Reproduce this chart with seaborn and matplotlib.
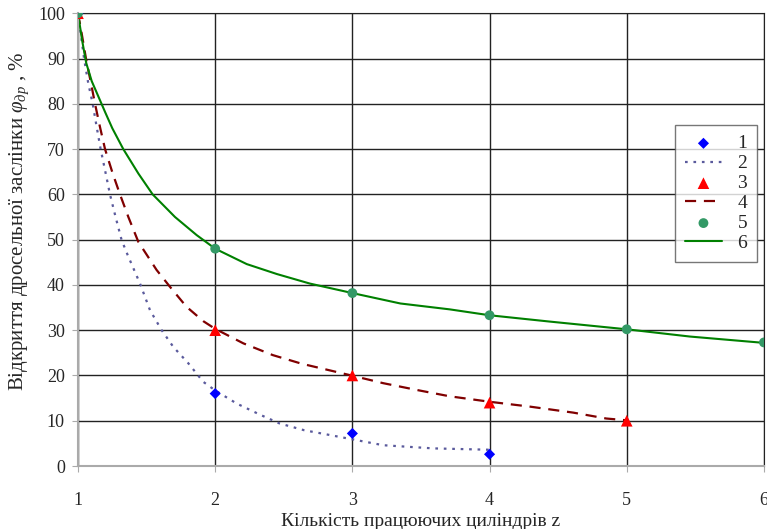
"""
Throttle opening vs. number of working cylinders:
measured points and their trend curves.
"""

import numpy as np
import pandas as pd
import matplotlib
matplotlib.use('Agg')
import matplotlib.pyplot as plt
import seaborn as sns

# Measured points
z_pts1 = [1, 2, 3, 4]
phi_pts1 = [100, 16, 7.2, 2.6]
z_pts3 = [1, 2, 3, 4, 5]
phi_pts3 = [100, 30, 20, 14, 10]
z_pts5 = [1, 2, 3, 4, 5, 6]
phi_pts5 = [100, 48, 38.2, 33.3, 30.2, 27.3]

# Trend curves
z_line2 = [1, 1.02, 1.044, 1.075, 1.107, 1.136, 1.165, 1.202, 1.233, 1.274,
           1.318, 1.362, 1.452, 1.525, 1.61, 1.695, 1.804, 1.913, 2, 2.157,
           2.33, 2.47, 2.65, 2.81, 3, 3.225, 3.59, 4]
phi_line2 = [100, 95.5, 90, 84.5, 80, 74.9, 70, 64.6, 60, 55,
             49.9, 46.6, 40.3, 34.4, 30, 26.3, 22.7, 18.6, 16.7, 13.8,
             11.3, 9.4, 7.9, 7.0, 5.9, 4.6, 3.9, 3.6]
z_line4 = [1, 1.027, 1.058, 1.095, 1.124, 1.16, 1.197, 1.253, 1.306, 1.367,
           1.44, 1.573, 1.67, 1.79, 1.913, 2, 2.205, 2.42, 2.63, 3, 3.225,
           3.47, 3.71, 4, 4.3, 4.61, 4.85, 5]
phi_line4 = [100, 95.5, 90, 84.5, 80, 74.9, 70, 64.6, 60, 55,
             49.5, 43.3, 39.6, 35.2, 32.0, 30.3, 27.1, 24.5, 22.6, 19.95, 18.3,
             16.8, 15.4, 14.2, 13.1, 11.8, 10.5, 10.1]
z_line6 = [1, 1.03, 1.06, 1.1, 1.15, 1.2, 1.25, 1.33, 1.44, 1.544, 1.707,
           1.865, 2, 2.23, 2.45, 2.69, 3, 3.35, 3.71, 4, 4.44, 5, 5.46, 6]
phi_line6 = [100, 94, 89, 85, 81.5, 78, 74.6, 70, 64.6, 60, 55,
             51, 48, 44.6, 42.4, 40.3, 38.2, 35.9, 34.6, 33.3, 31.9, 30.2,
             28.6, 27.2]

sns.set_style('white')
plt.rcParams['font.family'] = ['Liberation Serif', 'DejaVu Serif']
plt.rcParams['mathtext.fontset'] = 'custom'
plt.rcParams['mathtext.rm'] = 'Liberation Serif'
plt.rcParams['mathtext.it'] = 'Liberation Serif:italic'

fig, ax = plt.subplots(figsize=(7.67, 5.29), dpi=100)
fig.subplots_adjust(left=0.1017, right=0.996, top=0.975, bottom=0.119)

sns.scatterplot(x=z_pts1, y=phi_pts1, marker='D', s=32, color='#0000FF',
                edgecolor='none', label='1', ax=ax, zorder=5)
sns.lineplot(x=z_line2, y=phi_line2, color='#5a5a9c', lw=1.6,
             linestyle=(0, (1.2, 2.6)), label='2', ax=ax, sort=False)
sns.scatterplot(x=z_pts3, y=phi_pts3, marker='^', s=70, color='#FF0000',
                edgecolor='none', label='3', ax=ax, zorder=5)
sns.lineplot(x=z_line4, y=phi_line4, color='#800000', lw=1.6,
             linestyle=(0, (5, 3.5)), label='4', ax=ax, sort=False)
sns.scatterplot(x=z_pts5, y=phi_pts5, marker='o', s=50, color='#339966',
                edgecolor='none', label='5', ax=ax, zorder=5)
sns.lineplot(x=z_line6, y=phi_line6, color='#008000', lw=1.5,
             label='6', ax=ax, sort=False)

ax.set_xlim(1, 6)
ax.set_ylim(0, 100)
ax.set_xticks(range(1, 7))
ax.set_yticks(range(0, 101, 10))
ax.grid(True, color='#222222', lw=1)
ax.set_axisbelow(True)
for side in ['top', 'right']:
    ax.spines[side].set_color('#222222')
for side in ['left', 'bottom']:
    ax.spines[side].set_color('#aaaaaa')
    ax.spines[side].set_linewidth(1.5)
ax.tick_params(axis='x', length=4.5, color='#aaaaaa', pad=14, labelsize=13)
ax.tick_params(axis='y', length=4.5, color='#aaaaaa', pad=5, labelsize=13)
ax.tick_params(bottom=True, left=True)

ax.set_xlabel('Кількість працюючих циліндрів z', fontsize=14, labelpad=3)
ax.set_ylabel(r'Відкриття дросельної заслінки $\varphi_{др}$ , %', fontsize=15)
ax.yaxis.set_label_coords(-0.068, 0.54)

leg = ax.legend(loc='upper right', bbox_to_anchor=(0.99, 0.753), fontsize=14,
                frameon=True, fancybox=False, edgecolor='#555555',
                handlelength=1.9, labelspacing=0.12, borderpad=0.5,
                handletextpad=0.8, borderaxespad=0)
leg.get_frame().set_linewidth(1)

plt.savefig('out.png', dpi=100)
